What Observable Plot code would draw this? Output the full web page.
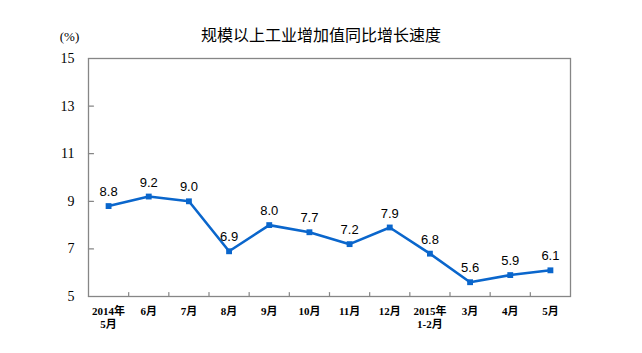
<!DOCTYPE html>
<html>
<head>
<meta charset="utf-8">
<script src="https://cdn.jsdelivr.net/npm/d3@7"></script>
<script src="https://cdn.jsdelivr.net/npm/@observablehq/plot@0.6"></script>
<style>
  html, body { margin: 0; padding: 0; background: #fff; }
  #chart svg { display: block; }
</style>
</head>
<body>
<div id="chart"></div>
<script>
const categories = ["2014年\n5月", "6月", "7月", "8月", "9月", "10月", "11月", "12月", "2015年\n1-2月", "3月", "4月", "5月"];
const values = [8.8, 9.2, 9.0, 6.9, 8.0, 7.7, 7.2, 7.9, 6.8, 5.6, 5.9, 6.1];
const yTicks = [5, 7, 9, 11, 13, 15];
const title = "规模以上工业增加值同比增长速度";
const unit = "(%)";

const data = values.map((v, i) => ({i, v, label: categories[i]}));
const boundaries = categories.slice(1).map((_, i) => i + 0.5);

const gray = "#868686";
const blue = "#0a66cc";
const tickShape = {draw(ctx, l) { ctx.moveTo(0, 0); ctx.lineTo(0, -l); }};

const chart = Plot.plot({
  width: 642,
  height: 353,
  marginLeft: 88,
  marginRight: 72,
  marginTop: 58,
  marginBottom: 57,
  x: {type: "linear", domain: [-0.5, categories.length - 0.5], label: null, axis: null},
  y: {domain: [5, 15], label: null},
  marks: [
    Plot.frame({stroke: gray, strokeWidth: 1.3}),
    Plot.vector(yTicks, {y: d => d, frameAnchor: "left", length: 5, rotate: 90, anchor: "start", shape: tickShape, stroke: gray, strokeWidth: 1.2}),
    Plot.vector(boundaries, {x: d => d, frameAnchor: "bottom", length: 4, rotate: 0, anchor: "start", shape: tickShape, stroke: gray, strokeWidth: 1.2}),
    Plot.axisY({ticks: yTicks, label: null, tickSize: 0, tickPadding: 14, fontSize: 14, fontFamily: "Liberation Serif", tickFormat: d => d, color: "#000"}),
    Plot.text(data, {x: "i", text: "label", frameAnchor: "bottom", lineAnchor: "top", dy: 10, lineHeight: 1.15, fontSize: 11, fontWeight: "bold", fontFamily: "'Liberation Serif', 'Noto Sans CJK SC'", fill: "#000"}),
    Plot.line(data, {x: "i", y: "v", stroke: blue, strokeWidth: 2.6}),
    Plot.dot(data, {x: "i", y: "v", symbol: "square", r: 3.3, fill: blue, stroke: "none"}),
    Plot.text(data, {x: "i", y: "v", text: d => d.v.toFixed(1), dy: -14, fontSize: 13, fontFamily: "Liberation Sans", fill: "#000"}),
    Plot.text([title], {frameAnchor: "top", dx: -8.5, dy: -29, fontSize: 16, fontFamily: "Noto Sans CJK SC", fill: "#000"}),
    Plot.text([unit], {frameAnchor: "top-left", dx: -19, dy: -27, textAnchor: "middle", fontSize: 13, fontFamily: "Liberation Serif", fill: "#000"})
  ]
});
document.getElementById("chart").appendChild(chart);
</script>
</body>
</html>
